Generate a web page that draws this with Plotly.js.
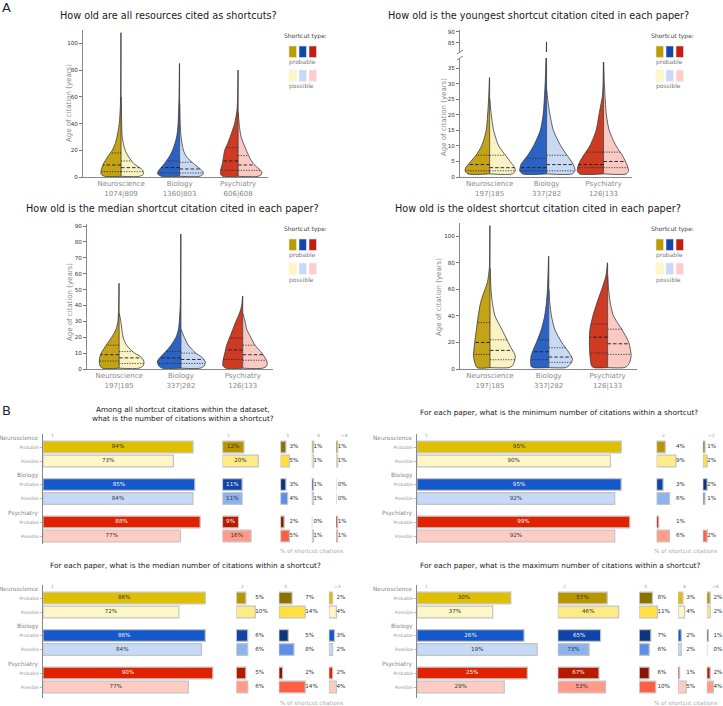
<!DOCTYPE html>
<html><head><meta charset="utf-8">
<script src="https://cdn.plot.ly/plotly-3.0.1.min.js"></script>
<style>html,body{margin:0;padding:0;background:#fff}#chart{width:723px;height:706px}</style>
</head><body><div id="chart"></div>
<script>
// ================= DATA =================
const fields = ['Neuroscience', 'Biology', 'Psychiatry'];
const types = ['Probable', 'Possible'];
const allCounts = ['1074|809', '1360|803', '606|608'];
const paperCounts = ['197|185', '337|282', '126|133'];

// Panel A – violin outlines: age (years) and half-width (fraction of category spacing)
// "How old are all resources cited as shortcuts?"
const allProbAge = [[0.5,2,5,10,15,20,25,30,40,50,60,80,108],[0.5,2,4,10,15,20,30,40,60,85],[0.5,2,5,10,15,20,25,32,40,50,60,80]];
const allProbDens = [[0.28,0.34,0.34,0.30,0.23,0.15,0.10,0.07,0.03,0.015,0.008,0.005,0.003],[0.31,0.37,0.37,0.26,0.18,0.12,0.05,0.025,0.01,0.003],[0.26,0.30,0.30,0.27,0.25,0.23,0.18,0.12,0.06,0.02,0.009,0.003]];
const allPossAge = [[0.5,2,5,10,15,20,25,30,40,60],[0.5,2,4,10,15,20,30,40,55],[0.5,2,4,10,15,20,30,40,48]];
const allPossDens = [[0.31,0.38,0.37,0.22,0.13,0.07,0.04,0.02,0.01,0.003],[0.34,0.40,0.40,0.24,0.12,0.065,0.025,0.01,0.003],[0.34,0.40,0.40,0.26,0.19,0.14,0.05,0.017,0.003]];
const allProbQ = [[4,9,18],[3,7,12],[5,12,22]];
const allPossQ = [[4,7,12],[3,6,11],[5,9,16]];

// "How old is the youngest shortcut citation cited in each paper?"
const youngProbAge = [[1,2,3,5,7,10,15,20,25,32],[1,2,4,7,10,15,20,30,39,50,70,85.5],[1,2,4,7,10,15,20,23,26,30,37]];
const youngProbDens = [[0.38,0.43,0.42,0.33,0.24,0.14,0.06,0.035,0.018,0.003],[0.42,0.47,0.45,0.33,0.23,0.11,0.06,0.025,0.01,0.006,0.005,0.003],[0.42,0.46,0.44,0.35,0.24,0.13,0.08,0.05,0.02,0.008,0.003]];
const youngPossAge = [[1,2,3,5,7,10,15,20,25],[1,2,4,7,10,15,20,25,28],[1,2,4,7,10,15,20,30,37]];
const youngPossDens = [[0.40,0.45,0.44,0.36,0.28,0.16,0.07,0.03,0.003],[0.45,0.50,0.47,0.36,0.25,0.12,0.06,0.02,0.003],[0.40,0.44,0.41,0.33,0.22,0.10,0.05,0.015,0.003]];
const youngProbQ = [[2,4,7],[2,3,6],[3,4,8]];
const youngPossQ = [[2,3,7],[2,4,7],[3,5,8]];

// "How old is the median shortcut citation cited in each paper?"
const medProbAge = [[0.5,2,5,8,10,15,20,25,30,40,54],[0.5,2,5,8,10,15,20,25,40,60,85],[0.5,2,5,10,15,20,25,30,35,40,46]];
const medProbDens = [[0.27,0.31,0.32,0.31,0.29,0.21,0.12,0.05,0.02,0.008,0.003],[0.30,0.36,0.38,0.32,0.27,0.16,0.08,0.04,0.011,0.005,0.003],[0.27,0.32,0.32,0.29,0.26,0.21,0.16,0.11,0.054,0.016,0.003]];
const medPossAge = [[0.5,2,5,8,10,15,20,30,35],[0.5,2,5,8,10,15,20,25],[0.5,2,5,10,15,20,25,30,35]];
const medPossDens = [[0.32,0.39,0.40,0.34,0.25,0.12,0.065,0.027,0.003],[0.31,0.38,0.39,0.32,0.24,0.12,0.054,0.003],[0.32,0.39,0.39,0.31,0.20,0.13,0.065,0.038,0.003]];
const medProbQ = [[5,9,15],[3.5,7,11],[6,12,19.5]];
const medPossQ = [[3.5,7,11],[3.5,6,10],[5.5,9,15]];

// "How old is the oldest shortcut citation cited in each paper?"
const oldProbAge = [[1,5,10,20,30,40,50,60,65,76,90,108],[1,2,5,10,15,20,30,40,50,60,85],[1,2,10,20,30,40,50,60,70,80]];
const oldProbDens = [[0.22,0.26,0.28,0.26,0.23,0.20,0.16,0.085,0.045,0.011,0.006,0.003],[0.26,0.30,0.31,0.30,0.26,0.21,0.125,0.07,0.04,0.023,0.003],[0.23,0.27,0.30,0.31,0.30,0.25,0.18,0.10,0.03,0.003]];
const oldPossAge = [[1,2,5,10,15,20,30,40,50,60,76],[1,2,5,8,12,20,30,40,50,60],[1,2,5,10,20,30,40,50,60,70]];
const oldPossDens = [[0.31,0.37,0.41,0.43,0.37,0.31,0.20,0.085,0.04,0.017,0.003],[0.28,0.33,0.39,0.40,0.35,0.22,0.10,0.045,0.017,0.003],[0.28,0.33,0.375,0.40,0.36,0.24,0.10,0.045,0.017,0.003]];
const oldProbQ = [[11,20,35],[7,13,22],[12,24,34]];
const oldPossQ = [[7,14,22],[5,9,16],[11,19,30]];

// Panel B – % of shortcut citations (rows: Neuroscience, Biology, Psychiatry)
const numberCols = ['1', '2', '3', '4', '>4'];
const numberProbable = [[84,12,3,1,1],[85,11,3,1,0],[88,9,2,0,1]];
const numberPossible = [[73,20,5,1,1],[84,11,4,1,0],[77,16,5,1,1]];
const minCols = ['1', '2', '>2'];
const minProbable = [[95,4,1],[95,3,2],[99,1,null]];
const minPossible = [[90,9,2],[92,6,1],[92,6,2]];
const medianCols = ['1', '2', '3', '>3'];
const medianProbable = [[86,5,7,2],[86,6,5,3],[90,5,2,2]];
const medianPossible = [[72,10,14,4],[84,6,8,2],[77,6,14,4]];
const maxCols = ['1', '2', '3', '4', '>4'];
const maxProbable = [[30,57,8,3,2],[26,65,7,2,1],[25,67,6,1,2]];
const maxPossible = [[37,46,11,4,2],[19,73,6,2,0],[29,53,10,5,4]];
// in the reference, the bars of columns "1" and "2" of this panel are drawn with each other's values
const maxBarSource = [1, 0, 2, 3, 4];

// ================= STYLE / LAYOUT =================
const W = 723, H = 706;
const FONT = 'DejaVu Sans, sans-serif';
const violinColors = {prob: ['#C4A317', '#2C62C3', '#CE3B22'], poss: ['#FAF2C4', '#C8D9F4', '#F8CAC3']};
const legendProb = ['#BC9C00', '#1447AA', '#C41E10'];
const legendPoss = ['#FFF6C0', '#C9D9F7', '#FFCCC9'];
const barColors = [
  {Probable: ['#E0BF00', '#B89600', '#8C7300'], Possible: ['#FFF6C6', '#FFEB85', '#FFE040']},
  {Probable: ['#1558CC', '#0F45A8', '#0E347F'], Possible: ['#C6D9F7', '#8DB3EE', '#5B8FE9']},
  {Probable: ['#E02200', '#B81A00', '#8A1500'], Possible: ['#FFCCC4', '#FF9B88', '#FF6045']}
];

const layout = {width: W, height: H, margin: {l: 0, r: 0, t: 0, b: 0}, paper_bgcolor: '#fff',
  plot_bgcolor: 'rgba(0,0,0,0)', showlegend: false, font: {family: FONT}, annotations: [], shapes: []};
const traces = [];
let axN = 0;
function addPair(xPx, yPx, xo, yo) {
  axN++;
  const s = axN === 1 ? '' : String(axN);
  layout['xaxis' + s] = Object.assign({domain: [Math.max(0, xPx[0] / W), Math.min(1, xPx[1] / W)], anchor: 'y' + s,
    showgrid: false, zeroline: false, fixedrange: true}, xo);
  layout['yaxis' + s] = Object.assign({domain: [Math.max(0, 1 - yPx[1] / H), Math.min(1, 1 - yPx[0] / H)], anchor: 'x' + s,
    showgrid: false, zeroline: false, fixedrange: true}, yo);
  return {x: 'x' + s, y: 'y' + s};
}
function note(text, x, y, size, color, opts) {
  layout.annotations.push(Object.assign({text: text, x: x / W, y: 1 - y / H, xref: 'paper', yref: 'paper',
    showarrow: false, font: {size: size, color: color, family: FONT}, xanchor: 'center', yanchor: 'middle'}, opts || {}));
}
function rect(x0, y0, x1, y1, fill, line) {
  layout.shapes.push({type: 'rect', xref: 'paper', yref: 'paper', x0: x0 / W, x1: x1 / W, y0: 1 - y1 / H, y1: 1 - y0 / H,
    fillcolor: fill, line: {color: line || fill, width: 0.6}, layer: 'above'});
}
function seg(x0, y0, x1, y1) {
  layout.shapes.push({type: 'line', xref: 'paper', yref: 'paper', x0: x0 / W, x1: x1 / W, y0: 1 - y0 / H, y1: 1 - y1 / H,
    line: {color: '#777', width: 0.9}, layer: 'above'});
}
function widthAt(ages, dens, a) {
  for (let i = 1; i < ages.length; i++) {
    if (a <= ages[i]) {
      const t = (a - ages[i - 1]) / (ages[i] - ages[i - 1]);
      return dens[i - 1] + t * (dens[i] - dens[i - 1]);
    }
  }
  return dens[dens.length - 1];
}

// ---------- Panel A: violins ----------
const violinSpecs = [
  {title: 'How old are all resources cited as shortcuts?', counts: allCounts,
   probAge: allProbAge, probDens: allProbDens, possAge: allPossAge, possDens: allPossDens, probQ: allProbQ, possQ: allPossQ,
   xPx: [83, 268], yPx: [30, 177], xRange: [-0.65, 2.51], yRange: [0, 110], yTicks: [0, 20, 40, 60, 80, 100],
   titleXY: [168, 16], yTitleXY: [69, 103], legendXY: [289, 36]},
  {title: 'How old is the youngest shortcut citation cited in each paper?', counts: paperCounts,
   probAge: youngProbAge, probDens: youngProbDens, possAge: youngPossAge, possDens: youngPossDens, probQ: youngProbQ, possQ: youngPossQ,
   xPx: [460, 632], yPx: [58, 177], xRange: [-0.52, 2.5], yRange: [0, 38.3], yTicks: [0, 5, 10, 15, 20, 25, 30, 35],
   upper: {yPx: [30, 52], yRange: [80.9, 90.9], yTicks: [85, 90]},
   titleXY: [538, 16], yTitleXY: [444, 117], legendXY: [656, 36]},
  {title: 'How old is the median shortcut citation cited in each paper?', counts: paperCounts,
   probAge: medProbAge, probDens: medProbDens, possAge: medPossAge, possDens: medPossDens, probQ: medProbQ, possQ: medPossQ,
   xPx: [87, 273], yPx: [224, 369], xRange: [-0.52, 2.49], yRange: [0, 91.3], yTicks: [0, 10, 20, 30, 40, 50, 60, 70, 80, 90],
   titleXY: [172, 209], yTitleXY: [70, 302], legendXY: [289, 229]},
  {title: 'How old is the oldest shortcut citation cited in each paper?', counts: paperCounts,
   probAge: oldProbAge, probDens: oldProbDens, possAge: oldPossAge, possDens: oldPossDens, probQ: oldProbQ, possQ: oldPossQ,
   xPx: [460, 637], yPx: [223, 369], xRange: [-0.51, 2.5], yRange: [0, 110], yTicks: [0, 20, 40, 60, 80, 100],
   titleXY: [538, 209], yTitleXY: [439, 297], legendXY: [656, 229]}
];

const yTickStyle = {showline: true, linecolor: '#888', linewidth: 1, ticks: 'outside', ticklen: 3, tickwidth: 0.8,
  tickcolor: '#555', tickfont: {size: 5.6, color: '#333', family: FONT}};

function drawViolins(spec, ax) {
  const medX = [], medY = [], qX = [], qY = [], cX = [], cY = [];
  fields.forEach((f, i) => {
    let top = 0, bottom = Infinity;
    [['prob', -1], ['poss', 1]].forEach(([k, s]) => {
      const ages = spec[k + 'Age'][i], dens = spec[k + 'Dens'][i];
      const a0 = ages[0], a1 = ages[ages.length - 1];
      top = Math.max(top, a1); bottom = Math.min(bottom, a0);
      // invisible straight centre line, the filled outline closes onto it
      traces.push({type: 'scatter', mode: 'lines', x: [i, i], y: [a0, a1], xaxis: ax.x, yaxis: ax.y,
        line: {width: 0, color: 'rgba(0,0,0,0)'}, hoverinfo: 'skip'});
      const xs = [i], ys = [a0];
      ages.forEach((a, j) => { xs.push(i + s * dens[j]); ys.push(a); });
      traces.push({type: 'scatter', mode: 'lines', x: xs, y: ys, xaxis: ax.x, yaxis: ax.y, fill: 'tonextx',
        fillcolor: violinColors[k][i], line: {color: '#3a3a3a', width: 0.8, shape: 'spline', smoothing: 0.7},
        hoverinfo: 'skip'});
      spec[k + 'Q'][i].forEach((q, j) => {
        const w = widthAt(ages, dens, q);
        const X = j === 1 ? medX : qX, Y = j === 1 ? medY : qY;
        X.push(i, i + s * w, null); Y.push(q, q, null);
      });
    });
    cX.push(i, i, null); cY.push(bottom, top, null);
  });
  traces.push({type: 'scatter', mode: 'lines', x: cX, y: cY, xaxis: ax.x, yaxis: ax.y,
    line: {color: '#3a3a3a', width: 0.8}, hoverinfo: 'skip'});
  traces.push({type: 'scatter', mode: 'lines', x: medX, y: medY, xaxis: ax.x, yaxis: ax.y,
    line: {color: '#1a1a1a', width: 0.9, dash: '3.5px,2px'}, hoverinfo: 'skip'});
  traces.push({type: 'scatter', mode: 'lines', x: qX, y: qY, xaxis: ax.x, yaxis: ax.y,
    line: {color: '#2a2a2a', width: 0.8, dash: '1.3px,1.3px'}, hoverinfo: 'skip'});
}

violinSpecs.forEach(spec => {
  const ax = addPair(spec.xPx, spec.yPx,
    {range: spec.xRange, tickvals: [0, 1, 2], ticktext: fields.map((f, i) => f + '<br>' + spec.counts[i]),
     tickfont: {size: 7, color: '#888', family: FONT}, showline: true, linecolor: '#888', linewidth: 1, ticks: ''},
    Object.assign({range: spec.yRange, tickvals: spec.yTicks}, yTickStyle));
  drawViolins(spec, ax);
  if (spec.upper) {
    const ax2 = addPair(spec.xPx, spec.upper.yPx, {range: spec.xRange, visible: false},
      Object.assign({range: spec.upper.yRange, tickvals: spec.upper.yTicks}, yTickStyle));
    drawViolins(spec, ax2);
    const xa = spec.xPx[0];
    seg(xa - 3, spec.upper.yPx[1] + 2, xa + 3, spec.upper.yPx[1] - 2);
    seg(xa - 3, spec.yPx[0] + 2, xa + 3, spec.yPx[0] - 2);
  }
  note(spec.title, spec.titleXY[0], spec.titleXY[1], 9.7, '#1a1a1a');
  note('Age of citation (years)', spec.yTitleXY[0], spec.yTitleXY[1], 7, '#888', {textangle: -90});
  const [lx, ly] = spec.legendXY;
  note('Shortcut type:', lx + 16.5, ly, 6, '#444');
  for (let i = 0; i < 3; i++) {
    rect(lx + i * 10, ly + 10, lx + i * 10 + 7.5, ly + 21.5, legendProb[i], '#e6e6e6');
    rect(lx + i * 10, ly + 34, lx + i * 10 + 7.5, ly + 45.5, legendPoss[i], '#f2f2f2');
  }
  note('probable', lx + 13.5, ly + 26.3, 6, '#777');
  note('possible', lx + 12.5, ly + 50.5, 6, '#777');
});

note('A', 6, 8, 13, '#1c2b36');
note('B', 6, 410, 13, '#1c2b36');

// ---------- Panel B: horizontal bar panels ----------
const numberPanels = [
  {title: 'Among all shortcut citations within the dataset,<br>what is the number of citations within a shortcut?',
   cols: numberCols, prob: numberProbable, poss: numberPossible, left: 43, top: 434, bottom: 544, titleXY: [183, 414.5], noteXY: [311, 551]},
  {title: 'For each paper, what is the minimum number of citations within a shortcut?',
   cols: minCols, prob: minProbable, poss: minPossible, left: 417, top: 434, bottom: 544, titleXY: [559, 412.3], noteXY: [685, 551]},
  {title: 'For each paper, what is the median number of citations within a shortcut?',
   cols: medianCols, prob: medianProbable, poss: medianPossible, left: 43, top: 585, bottom: 698, titleXY: [186, 565], noteXY: [311, 703]},
  {title: 'For each paper, what is the maximum number of citations within a shortcut?',
   cols: maxCols, prob: maxProbable, poss: maxPossible, barSource: maxBarSource, left: 417, top: 585, bottom: 698, titleXY: [560, 565], noteXY: [685, 703]}
];

function lum(hex) {
  const c = [1, 3, 5].map(k => Math.pow(parseInt(hex.substr(k, 2), 16) / 255, 2.2));
  return 0.2126 * c[0] + 0.7152 * c[1] + 0.0722 * c[2];
}

numberPanels.forEach(p => {
  const src = p.barSource || p.cols.map((_, c) => c);
  const table = t => (t === 0 ? p.prob : p.poss);
  const drawn = (t, g, c) => table(t)[g][src[c]];
  const colMax = p.cols.map((_, c) => Math.max(...[0, 1].flatMap(t => [0, 1, 2].map(g => drawn(t, g, c) || 0))));
  const widths = colMax.map(m => m + 12.5);
  const scale = 317 / widths.reduce((a, b) => a + b, 0);
  const span = p.bottom - p.top;
  const rowY = [], rowText = [];
  fields.forEach((f, g) => types.forEach((t, ti) => { rowY.push(13 + g * 37.5 + ti * 14); rowText.push(t); }));
  let x0 = p.left;
  p.cols.forEach((col, c) => {
    const x1 = Math.min(W, x0 + widths[c] * scale);
    const yo = c === 0 ? {range: [span, 0], showline: true, linecolor: '#888', linewidth: 1, ticks: 'outside', ticklen: 2,
        tickwidth: 0.8, tickcolor: '#aaa', tickvals: rowY, ticktext: rowText, tickfont: {size: 4.5, color: '#999', family: FONT}}
      : {range: [span, 0], visible: false};
    const ax = addPair([x0, x1], [p.top, p.bottom], {range: [0, (x1 - x0) / scale], visible: false}, yo);
    const xs = [], cols = [], txt = [], tx = [], tcol = [];
    const inside = colMax[c] >= 15;
    fields.forEach((f, g) => types.forEach((t, ti) => {
      const v = drawn(ti, g, c), lab = table(ti)[g][c];
      const color = barColors[g][t][c % 3];
      xs.push(v); cols.push(color);
      if (lab === null || lab === undefined) { txt.push(''); tx.push(null); tcol.push('#333'); return; }
      txt.push(lab + '%');
      tx.push(inside ? (v || 0) / 2 : colMax[c]);
      tcol.push(inside && lum(color) < 0.2 ? '#f2f2f2' : '#333');
    }));
    traces.push({type: 'bar', orientation: 'h', x: xs, y: rowY, width: 11.7, xaxis: ax.x, yaxis: ax.y,
      marker: {color: cols, line: {color: '#c4c4c4', width: 1.2}}, hoverinfo: 'skip'});
    traces.push({type: 'scatter', mode: 'text', x: tx, y: rowY, text: txt, xaxis: ax.x, yaxis: ax.y,
      textposition: inside ? 'middle center' : 'middle right', cliponaxis: false,
      textfont: {size: 5.6, color: tcol, family: FONT}, hoverinfo: 'skip'});
    note(col, x0 + (c === 0 ? 6 : 3), p.top + 1, 4.5, '#999', {xanchor: 'left'});
    x0 = x1;
  });
  fields.forEach((f, g) => note(f, p.left - 2, p.top + 13 + g * 37.5 - 9, 5.8, '#888', {xanchor: 'right'}));
  note(p.title, p.titleXY[0], p.titleXY[1], 7.3, '#1a1a1a');
  note('% of shortcut citations', p.noteXY[0], p.noteXY[1], 5.6, '#aaa');
});

Plotly.newPlot('chart', traces, layout, {staticPlot: true, displayModeBar: false});
</script>
</body></html>
